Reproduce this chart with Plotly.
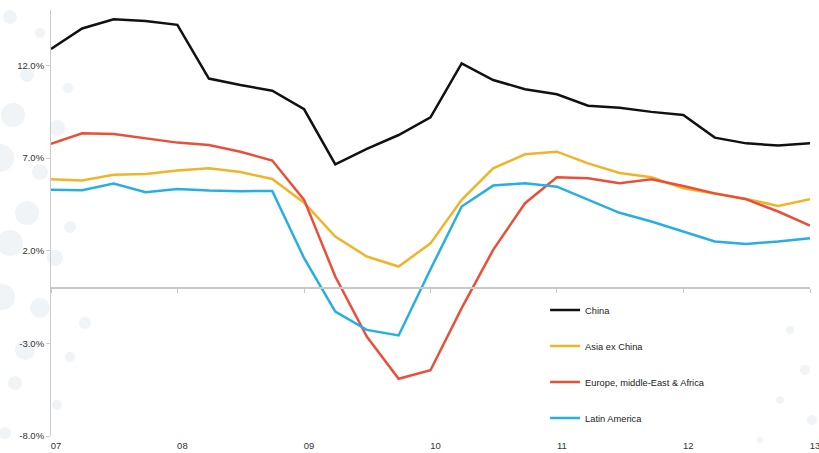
import plotly.graph_objects as go
import pandas as pd

# Quarterly growth, 2007 Q1 - 2013 Q1 (%)
quarters = pd.date_range("2007-01-01", "2013-01-01", freq="QS")

china = [12.9, 14.0, 14.5, 14.4, 14.2, 11.3, 10.95, 10.64, 9.64, 6.67, 7.5, 8.25,
         9.2, 12.12, 11.22, 10.72, 10.45, 9.83, 9.72, 9.5, 9.33, 8.11, 7.8, 7.68, 7.8]
asia_ex_china = [5.86, 5.79, 6.1, 6.15, 6.33, 6.46, 6.25, 5.88, 4.6, 2.77, 1.69, 1.15,
                 2.4, 4.75, 6.45, 7.21, 7.35, 6.72, 6.2, 5.97, 5.38, 5.07, 4.8, 4.42, 4.78]
emea = [7.77, 8.34, 8.3, 8.05, 7.84, 7.71, 7.35, 6.87, 4.75, 0.61, -2.63, -4.91,
        -4.45, -1.1, 2.05, 4.57, 5.97, 5.92, 5.65, 5.86, 5.5, 5.1, 4.78, 4.12, 3.36]
latam = [5.29, 5.27, 5.63, 5.16, 5.34, 5.25, 5.22, 5.23, 1.6, -1.28, -2.27, -2.57,
         1.0, 4.39, 5.52, 5.65, 5.46, 4.75, 4.05, 3.58, 3.04, 2.5, 2.37, 2.5, 2.68]

series_names = ["China", "Asia ex China", "Europe, middle-East & Africa", "Latin America"]
series_values = [china, asia_ex_china, emea, latam]
series_colors = ["#111111", "#f0b429", "#e8503a", "#27aee3"]

y_tick_vals = [-8, -3, 2, 7, 12]
y_tick_text = ["-8.0%", "-3.0%", "2.0%", "7.0%", "12.0%"]
year_ticks = pd.date_range("2007-01-01", "2013-01-01", freq="YS")
year_labels = ["07", "08", "09", "10", "11", "12", "13"]

W, H = 819, 453
ML, MR, MT, MB = 51, 9, 10, 17
Y_MIN, Y_MAX = -8, 15

fig = go.Figure()
for name, vals, col in zip(series_names, series_values, series_colors):
    fig.add_trace(go.Scatter(
        x=quarters, y=vals, name=name, mode="lines",
        line=dict(color=col, width=2.5),
        legendgroup=name,
    ))

# Faint decorative dots along the page edges (pixel centre x, y, radius)
dots = [(10, 17, 7), (40, 33, 5), (27, 75, 7), (68, 88, 5), (13, 115, 12), (57, 128, 8),
        (0, 158, 14), (40, 172, 8), (27, 213, 12), (70, 227, 6), (10, 243, 13),
        (55, 258, 8), (2, 297, 13), (40, 308, 10), (85, 323, 6), (25, 350, 10),
        (70, 357, 5), (15, 383, 7), (57, 405, 5), (5, 433, 6),
        (790, 330, 4), (805, 370, 5), (780, 400, 4), (812, 420, 5), (760, 440, 3)]
pw, ph = W - ML - MR, H - MT - MB
for cx, cy, r in dots:
    fig.add_shape(
        type="circle", xref="paper", yref="paper", layer="below",
        x0=(cx - r - ML) / pw, x1=(cx + r - ML) / pw,
        y0=(H - MB - cy - r) / ph, y1=(H - MB - cy + r) / ph,
        fillcolor="#eaeff2", line_width=0, opacity=0.7,
    )

zero_pos = (0 - Y_MIN) / (Y_MAX - Y_MIN)

fig.update_layout(
    width=W, height=H,
    margin=dict(l=ML, r=MR, t=MT, b=MB, autoexpand=False),
    paper_bgcolor="white", plot_bgcolor="rgba(0,0,0,0)",
    font=dict(family="Liberation Sans, Arial, sans-serif", size=9.5, color="#333333"),
    showlegend=True,
    legend=dict(
        x=0.651, y=0.33, xanchor="left", yanchor="top",
        bgcolor="rgba(0,0,0,0)", font=dict(size=9.3, color="#222222"),
        tracegroupgap=17, itemwidth=30,
    ),
    xaxis=dict(
        type="date", range=[quarters[0], quarters[-1]],
        tickvals=year_ticks, ticktext=year_labels,
        showgrid=False, zeroline=False, showline=False, automargin=False,
        ticks="", ticklabelshift=5, ticklabelstandoff=2, ticklabeloverflow="allow",
        tickfont=dict(size=9.5, color="#333333"),
    ),
    # Axis drawn at the zero line carrying the year tick marks
    xaxis2=dict(
        type="date", range=[quarters[0], quarters[-1]], overlaying="x",
        anchor="free", position=zero_pos, automargin=False,
        tickvals=year_ticks, showticklabels=False,
        showgrid=False, zeroline=False,
        showline=True, linecolor="#c8c8c8", linewidth=1.5,
        ticks="outside", ticklen=4, tickcolor="#c8c8c8",
    ),
    yaxis=dict(
        range=[Y_MIN, Y_MAX], tickvals=y_tick_vals, ticktext=y_tick_text,
        showgrid=False, zeroline=False, automargin=False,
        showline=True, linecolor="#cccccc", linewidth=1,
        ticks="outside", ticklen=4, tickcolor="#cccccc",
        tickfont=dict(size=9.5, color="#333333"),
    ),
)

# Invisible trace to activate the zero-line axis
fig.add_trace(go.Scatter(x=[quarters[0]], y=[0], xaxis="x2", mode="markers",
                         marker=dict(opacity=0), showlegend=False, hoverinfo="skip"))

fig.write_html("out.html")
